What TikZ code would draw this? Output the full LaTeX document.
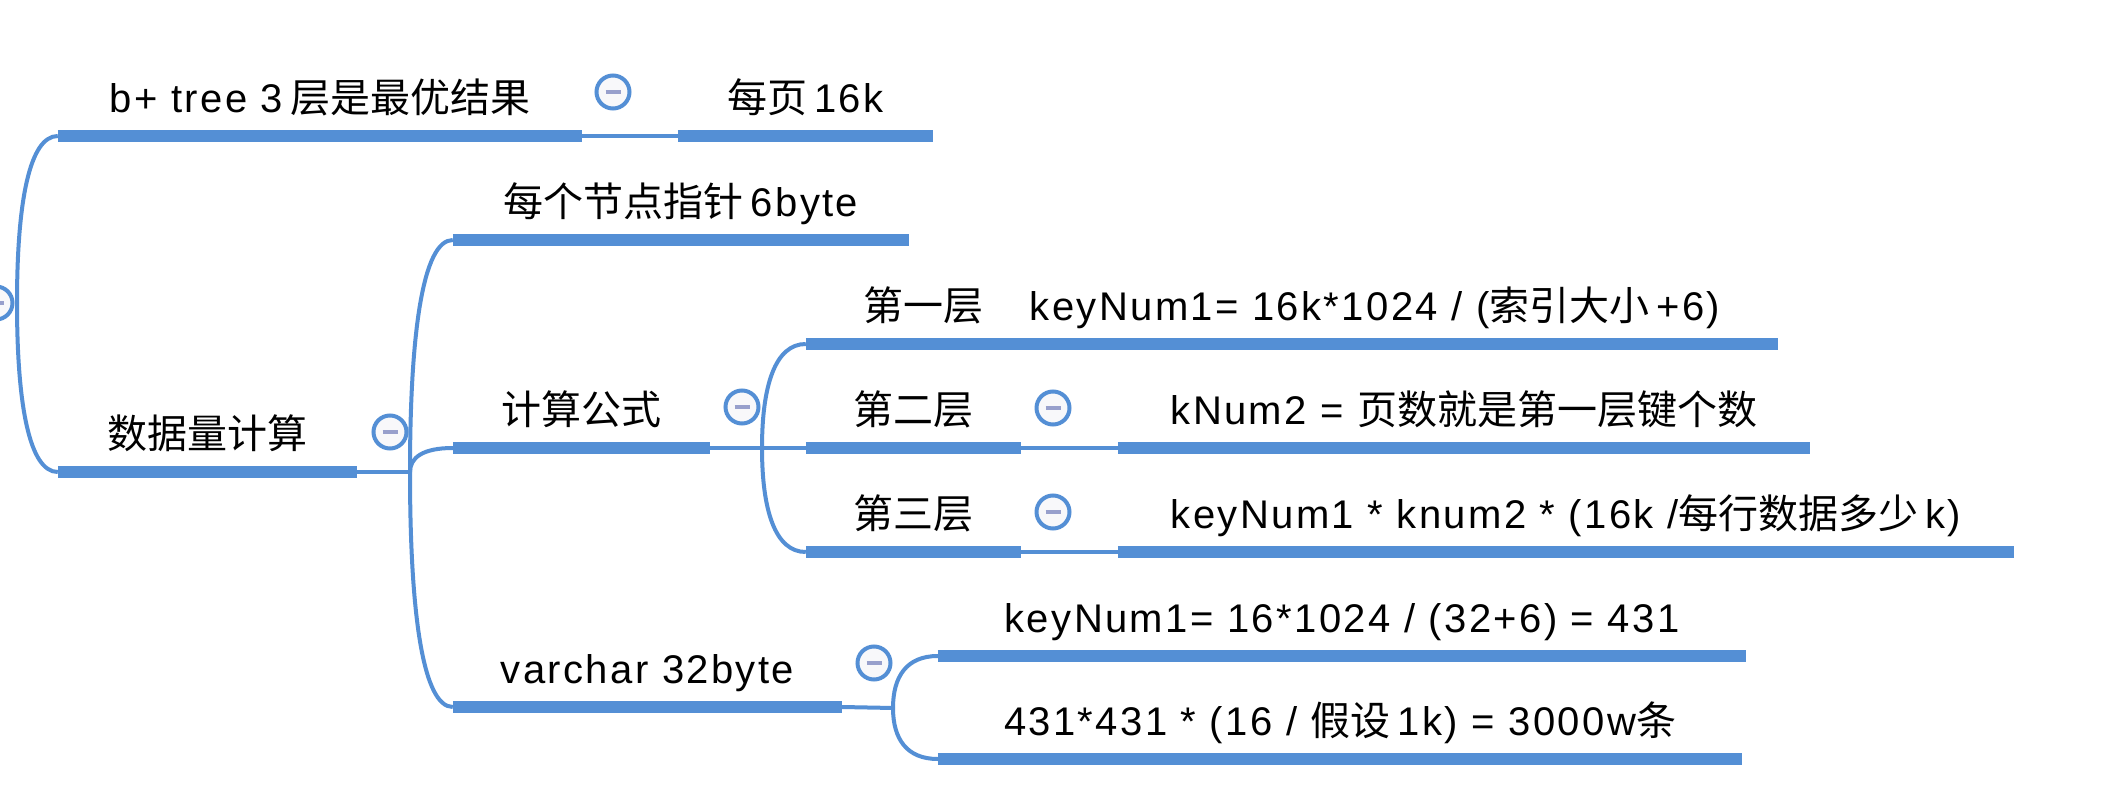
\documentclass[tikz,border=0pt]{standalone}
\usepackage{fontspec}
\setmainfont[LetterSpace=6]{Liberation Sans}
\newfontfamily\cjk{Noto Sans CJK SC}
\usetikzlibrary{calc}
\definecolor{mmblue}{RGB}{84,143,213}
\definecolor{mmminus}{RGB}{152,160,204}
\definecolor{mmfill}{RGB}{248,248,250}
\newcommand\zh[1]{{\cjk #1}}
\newcommand\gp{\hskip 7pt\relax}
\newcommand\mmbranch[2]{\draw[conn] (#1) .. controls ($(#1)!0.6!(#1 |- #2.south west)$) and ($(#1 |- #2.south west)!0.3!(#2.south west)$) .. (#2.south west);}
\newcommand\mmbar[1]{\draw[bar] (#1.south west) -- (#1.south east);}
\tikzset{
  topic/.style={anchor=south, inner xsep=0pt, inner ysep=23pt, text depth=0pt,
    minimum width=#1, font=\fontsize{40}{48}\selectfont, text=black},
  bar/.style={draw=mmblue, line width=12pt, line cap=butt},
  conn/.style={draw=mmblue, line width=4pt},
  collapse/.style={circle, draw=mmblue, line width=4pt, fill=mmfill,
    minimum size=33pt, inner sep=0pt},
}
\newcommand\minus{\textcolor{mmminus}{\rule[-1.75pt]{15pt}{3.5pt}}}
\begin{document}
\begin{tikzpicture}[x=1pt, y=-1pt]
\useasboundingbox[fill=white] (0,0) rectangle (2118,810);

% nodes (text above a bar)
\node[topic=524pt] (t1) at (320,136) {b+ tree 3\gp\zh{层是最优结果}};
\node[topic=255pt] (t2) at (805.5,136) {\zh{每页}\gp 16k};
\node[topic=299pt] (t3) at (207.5,472) {\zh{数据量计算}};
\node[topic=456pt] (t4) at (681,240) {\zh{每个节点指针}\gp 6byte};
\node[topic=257pt] (t5) at (581.5,448) {\zh{计算公式}};
\node[topic=389pt] (t6) at (647.5,707) {varchar 32byte};
\node[topic=972pt] (t7) at (1292,344) {\zh{第一层}\hskip 46pt keyNum1= 16k*1024 / (\zh{索引大小}\gp+6)};
\node[topic=215pt] (t8) at (913.5,448) {\zh{第二层}};
\node[topic=692pt] (t9) at (1464,448) {kNum2 = \zh{页数就是第一层键个数}};
\node[topic=215pt] (t10) at (913.5,552) {\zh{第三层}};
\node[topic=896pt] (t11) at (1566,552) {keyNum1 * knum2 * (16k /\zh{每行数据多少}\gp k)};
\node[topic=808pt] (t12) at (1342,656) {keyNum1= 16*1024 / (32+6) = 431};
\node[topic=804pt] (t13) at (1340,759) {431*431 * (16 / \zh{假设}\gp 1k) = 3000w\zh{条}};

% branch points
\coordinate (b0) at (17,303);
\coordinate (b1) at (410,472);
\coordinate (b2) at (762,448);
\coordinate (b3) at (893,708);

% connectors
\mmbranch{b0}{t1}
\mmbranch{b0}{t3}
\draw[conn] (t1.south east) -- (t2.south west);
\draw[conn] (t3.south east) -- (b1);
\mmbranch{b1}{t4}
\mmbranch{b1}{t5}
\mmbranch{b1}{t6}
\draw[conn] (t5.south east) -- (b2);
\draw[conn] (b2) -- (t8.south west);
\mmbranch{b2}{t7}
\mmbranch{b2}{t10}
\draw[conn] (t8.south east) -- (t9.south west);
\draw[conn] (t10.south east) -- (t11.south west);
\draw[conn] (t6.south east) -- (b3);
\mmbranch{b3}{t12}
\mmbranch{b3}{t13}

% bars
\mmbar{t1}\mmbar{t2}\mmbar{t3}\mmbar{t4}\mmbar{t5}\mmbar{t6}\mmbar{t7}
\mmbar{t8}\mmbar{t9}\mmbar{t10}\mmbar{t11}\mmbar{t12}\mmbar{t13}

% collapse buttons
\node[collapse] (c0) at (-4,303) {\minus};
\draw[conn] (c0.east) -- (b0);
\node[collapse] (c1) at (613,92) {\minus};
\node[collapse] (c2) at (390,432) {\minus};
\node[collapse] (c3) at (742,407) {\minus};
\node[collapse] (c4) at (1053,408) {\minus};
\node[collapse] (c5) at (1053,512) {\minus};
\node[collapse] (c6) at (874,663) {\minus};
\end{tikzpicture}
\end{document}
